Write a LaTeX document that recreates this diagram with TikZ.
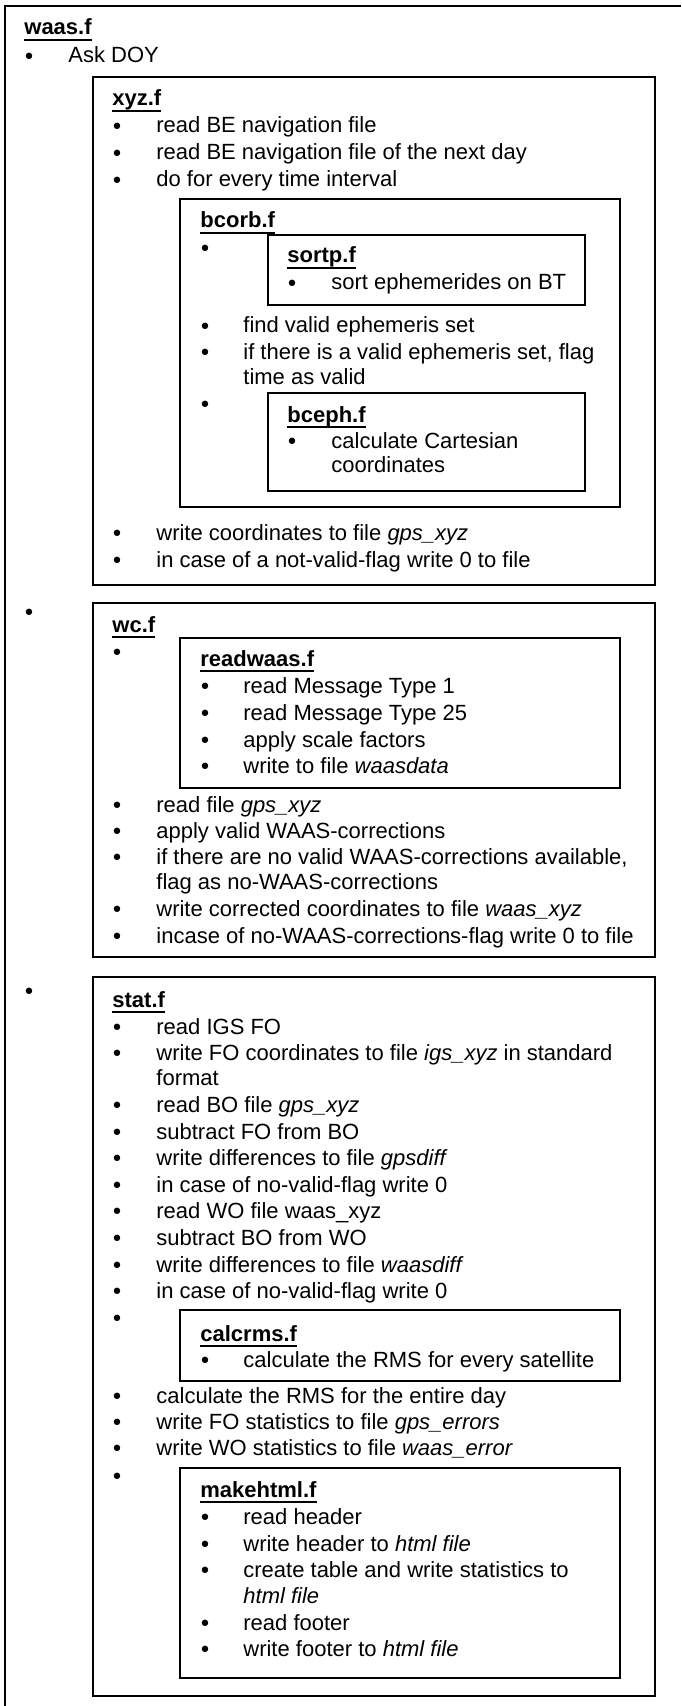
\documentclass[tikz,border=0pt]{standalone}
\usepackage{fontspec}
\setmainfont{Liberation Sans}
\newfontfamily\dotfont{DejaVu Sans}
\usepackage{tikz}

\newsavebox\modbox
\newcommand{\modname}[1]{\sbox\modbox{\bfseries #1}\rlap{\rule[-3pt]{\wd\modbox}{1pt}}\usebox\modbox}

\begin{document}
\begin{tikzpicture}[
    x=0.5pt, y=-0.5pt,
    font=\fontsize{11}{13}\selectfont,
    frame/.style={draw, line width=1pt},
    ttl/.style={anchor=base west, inner sep=0pt},
    txt/.style={anchor=base west, inner sep=0pt},
    dot/.style={anchor=base, inner sep=0pt, yshift=-0.6pt, font=\dotfont\fontsize{11}{13}\selectfont},
]
\useasboundingbox (0,0) rectangle (681,1706);
\draw[frame] (5,1706) -- (5,6) -- (681,6);

\node[ttl] (waas) at (24,35) {\modname{waas.f}};
\node[dot] (d0a) at (29,63) {•};
\node[txt] (askdoy) at (68,63) {Ask DOY};

\draw[frame] (93,77) rectangle (655,585);
\node[ttl] (xyz) at (112,106) {\modname{xyz.f}};
\node[dot] (d1a) at (117,133) {•};
\node[txt] (nav1) at (156,133) {read BE navigation file};
\node[dot] (d1b) at (117,160) {•};
\node[txt] (nav2) at (156,160) {read BE navigation file of the next day};
\node[dot] (d1c) at (117,187) {•};
\node[txt] (loop) at (156,187) {do for every time interval};

\draw[frame] (180,199) rectangle (620,507);
\node[ttl] (bcorb) at (200,228) {\modname{bcorb.f}};
\node[dot] (d2a) at (205,255) {•};
\draw[frame] (268,235) rectangle (585,305);
\node[ttl] (sortp) at (287,263) {\modname{sortp.f}};
\node[dot] (d3a) at (292,290) {•};
\node[txt] (sort) at (331,290) {sort ephemerides on BT};
\node[dot] (d2b) at (205,333) {•};
\node[txt] (findset) at (243,333) {find valid ephemeris set};
\node[dot] (d2c) at (205,359) {•};
\node[txt] (flag1) at (243,359) {if there is a valid ephemeris set, flag};
\node[txt] (flag2) at (243,384) {time as valid};
\node[dot] (d2d) at (205,411) {•};
\draw[frame] (268,393) rectangle (585,491);
\node[ttl] (bceph) at (287,422) {\modname{bceph.f}};
\node[dot] (d3b) at (292,448) {•};
\node[txt] (cart1) at (331,448) {calculate Cartesian};
\node[txt] (cart2) at (331,472) {coordinates};

\node[dot] (d1d) at (117,540) {•};
\node[txt] (wrxyz) at (156,540) {write coordinates to file \textit{gps\_xyz}};
\node[dot] (d1e) at (117,567) {•};
\node[txt] (zero1) at (156,567) {in case of a not-valid-flag write 0 to file};

\node[dot] (d0b) at (29,619) {•};
\draw[frame] (93,603) rectangle (655,957);
\node[ttl] (wc) at (112,632) {\modname{wc.f}};
\node[dot] (d1f) at (117,659) {•};
\draw[frame] (180,638) rectangle (620,788);
\node[ttl] (readwaas) at (200,666) {\modname{readwaas.f}};
\node[dot] (d2e) at (205,693) {•};
\node[txt] (mt1) at (243,693) {read Message Type 1};
\node[dot] (d2f) at (205,720) {•};
\node[txt] (mt25) at (243,720) {read Message Type 25};
\node[dot] (d2g) at (205,747) {•};
\node[txt] (scale) at (243,747) {apply scale factors};
\node[dot] (d2h) at (205,773) {•};
\node[txt] (wrdata) at (243,773) {write to file \textit{waasdata}};
\node[dot] (d1g) at (117,812) {•};
\node[txt] (rdxyz) at (156,812) {read file \textit{gps\_xyz}};
\node[dot] (d1h) at (117,838) {•};
\node[txt] (corr) at (156,838) {apply valid WAAS-corrections};
\node[dot] (d1i) at (117,864) {•};
\node[txt] (nocorr1) at (156,864) {if there are no valid WAAS-corrections available,};
\node[txt] (nocorr2) at (156,889) {flag as no-WAAS-corrections};
\node[dot] (d1j) at (117,916) {•};
\node[txt] (wrwaas) at (156,916) {write corrected coordinates to file \textit{waas\_xyz}};
\node[dot] (d1k) at (117,943) {•};
\node[txt] (zero2) at (156,943) {incase of no-WAAS-corrections-flag write 0 to file};

\node[dot] (d0c) at (29,998) {•};
\draw[frame] (93,977) rectangle (655,1696);
\node[ttl] (stat) at (112,1007) {\modname{stat.f}};
\node[dot] (d1l) at (117,1034) {•};
\node[txt] (igs) at (156,1034) {read IGS FO};
\node[dot] (d1m) at (117,1060) {•};
\node[txt] (wrigs1) at (156,1060) {write FO coordinates to file \textit{igs\_xyz} in standard};
\node[txt] (wrigs2) at (156,1085) {format};
\node[dot] (d1n) at (117,1112) {•};
\node[txt] (rdbo) at (156,1112) {read BO file \textit{gps\_xyz}};
\node[dot] (d1o) at (117,1139) {•};
\node[txt] (subfo) at (156,1139) {subtract FO from BO};
\node[dot] (d1p) at (117,1165) {•};
\node[txt] (gpsdiff) at (156,1165) {write differences to file \textit{gpsdiff}};
\node[dot] (d1q) at (117,1192) {•};
\node[txt] (zero3) at (156,1192) {in case of no-valid-flag write 0};
\node[dot] (d1r) at (117,1218) {•};
\node[txt] (rdwo) at (156,1218) {read WO file waas\_xyz};
\node[dot] (d1s) at (117,1245) {•};
\node[txt] (subbo) at (156,1245) {subtract BO from WO};
\node[dot] (d1t) at (117,1272) {•};
\node[txt] (waasdiff) at (156,1272) {write differences to file \textit{waasdiff}};
\node[dot] (d1u) at (117,1298) {•};
\node[txt] (zero4) at (156,1298) {in case of no-valid-flag write 0};
\node[dot] (d1v) at (117,1325) {•};
\draw[frame] (180,1310) rectangle (620,1381);
\node[ttl] (calcrms) at (200,1341) {\modname{calcrms.f}};
\node[dot] (d2i) at (205,1367) {•};
\node[txt] (rmssat) at (243,1367) {calculate the RMS for every satellite};
\node[dot] (d1w) at (117,1403) {•};
\node[txt] (rmsday) at (156,1403) {calculate the RMS for the entire day};
\node[dot] (d1x) at (117,1429) {•};
\node[txt] (fostat) at (156,1429) {write FO statistics to file \textit{gps\_errors}};
\node[dot] (d1y) at (117,1455) {•};
\node[txt] (wostat) at (156,1455) {write WO statistics to file \textit{waas\_error}};
\node[dot] (d1z) at (117,1483) {•};
\draw[frame] (180,1468) rectangle (620,1678);
\node[ttl] (makehtml) at (200,1497) {\modname{makehtml.f}};
\node[dot] (d2j) at (205,1524) {•};
\node[txt] (rdhead) at (243,1524) {read header};
\node[dot] (d2k) at (205,1551) {•};
\node[txt] (wrhead) at (243,1551) {write header to \textit{html file}};
\node[dot] (d2l) at (205,1577) {•};
\node[txt] (table1) at (243,1577) {create table and write statistics to};
\node[txt] (table2) at (243,1603) {\textit{html file}};
\node[dot] (d2m) at (205,1630) {•};
\node[txt] (rdfoot) at (243,1630) {read footer};
\node[dot] (d2n) at (205,1656) {•};
\node[txt] (wrfoot) at (243,1656) {write footer to \textit{html file}};
\end{tikzpicture}
\end{document}
